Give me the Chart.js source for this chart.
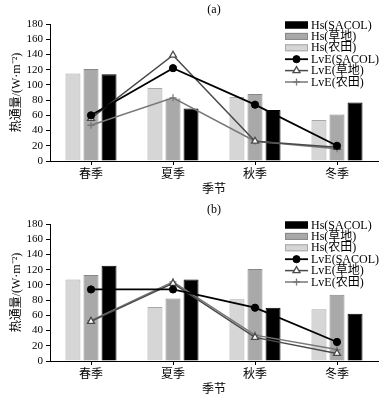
<!DOCTYPE html>
<html>
<head>
<meta charset="utf-8">
<script src="https://cdn.jsdelivr.net/npm/chart.js@4/dist/chart.umd.min.js"></script>
<style>
  html, body { margin: 0; padding: 0; background: #fff; }
  canvas { display: block; }
</style>
</head>
<body>
<canvas id="ca" width="384" height="200"></canvas>
<canvas id="cb" width="384" height="200"></canvas>
<script>
// ---- data ----
const categories = ['春季', '夏季', '秋季', '冬季'];
const yTicks = [0, 20, 40, 60, 80, 100, 120, 140, 160, 180];
const seriesLabels = ['Hs(农田)', 'Hs(草地)', 'Hs(SACOL)', 'LvE(SACOL)', 'LvE(草地)', 'LvE(农田)'];

// panel (a)
const hsFarmA  = [115, 96, 84, 54];
const hsGrassA = [121, 82, 88, 61];
const hsSacolA = [114, 69, 67, 77];
const lveSacolA = [60, 122, 74, 20];
const lveGrassA = [56, 139, 26, 18];
const lveFarmA  = [47, 83, 26, 16];

// panel (b)
const hsFarmB  = [107, 71, 81, 68];
const hsGrassB = [113, 82, 121, 87];
const hsSacolB = [125, 107, 70, 62];
const lveSacolB = [94, 94, 70, 25];
const lveGrassB = [52, 102, 31, 10];
const lveFarmB  = [53, 104, 34, 15];

const FONT = "'Liberation Serif', 'Noto Sans CJK SC', serif";
const legendOrder = [2, 1, 0, 3, 4, 5];

const legendPlugin = {
  id: 'customLegend',
  afterDraw(chart) {
    const ctx = chart.ctx;
    const x0 = 285, w = 23, y0 = 25, dy = 11.4;
    ctx.save();
    ctx.font = '12px ' + FONT;
    ctx.textBaseline = 'middle';
    ctx.textAlign = 'left';
    legendOrder.forEach((di, row) => {
      const ds = chart.data.datasets[di];
      const y = y0 + row * dy;
      if (ds.type === 'bar') {
        ctx.fillStyle = ds.backgroundColor;
        ctx.fillRect(x0, y - 3.5, w, 7);
        ctx.strokeStyle = ds.borderColor;
        ctx.lineWidth = 1;
        ctx.strokeRect(x0 + 0.5, y - 3, w - 1, 6);
      } else {
        ctx.strokeStyle = ds.borderColor;
        ctx.lineWidth = ds.borderWidth;
        ctx.beginPath();
        ctx.moveTo(x0, y);
        ctx.lineTo(x0 + w, y);
        ctx.stroke();
        const cx = x0 + w / 2;
        const r = ds.pointRadius;
        ctx.lineWidth = ds.pointBorderWidth;
        ctx.strokeStyle = ds.pointBorderColor;
        ctx.fillStyle = ds.pointBackgroundColor;
        if (ds.pointStyle === 'circle') {
          ctx.beginPath(); ctx.arc(cx, y, r, 0, Math.PI * 2); ctx.fill(); ctx.stroke();
        } else if (ds.pointStyle === 'triangle') {
          ctx.beginPath();
          ctx.moveTo(cx, y - r);
          ctx.lineTo(cx + r * 0.87, y + r * 0.5);
          ctx.lineTo(cx - r * 0.87, y + r * 0.5);
          ctx.closePath(); ctx.fill(); ctx.stroke();
        } else {
          ctx.beginPath();
          ctx.moveTo(cx - r, y); ctx.lineTo(cx + r, y);
          ctx.moveTo(cx, y - r); ctx.lineTo(cx, y + r);
          ctx.stroke();
        }
      }
      ctx.fillStyle = '#000';
      ctx.fillText(ds.label, x0 + w + 3, y + 0.5);
    });
    ctx.restore();
  }
};

function buildChart(id, title, hsFarm, hsGrass, hsSacol, lveSacol, lveGrass, lveFarm) {
  const barCommon = { type: 'bar', order: 2, borderWidth: 1, categoryPercentage: 0.66, barPercentage: 0.83 };
  return new Chart(document.getElementById(id), {
    data: {
      labels: categories,
      datasets: [
        Object.assign({ label: seriesLabels[0], data: hsFarm, backgroundColor: '#d6d6d6', borderColor: '#a8a8a8' }, barCommon),
        Object.assign({ label: seriesLabels[1], data: hsGrass, backgroundColor: '#a9a9a9', borderColor: '#888888' }, barCommon),
        Object.assign({ label: seriesLabels[2], data: hsSacol, backgroundColor: '#000000', borderColor: '#000000' }, barCommon),
        { type: 'line', order: 0, label: seriesLabels[3], data: lveSacol, borderColor: '#000', borderWidth: 1.8,
          pointStyle: 'circle', pointRadius: 3.6, pointBackgroundColor: '#000', pointBorderColor: '#000', pointBorderWidth: 1 },
        { type: 'line', order: 1, label: seriesLabels[4], data: lveGrass, borderColor: '#4a4a4a', borderWidth: 1.5,
          pointStyle: 'triangle', pointRadius: 4, pointBackgroundColor: '#fff', pointBorderColor: '#4a4a4a', pointBorderWidth: 1.3 },
        { type: 'line', order: 1, label: seriesLabels[5], data: lveFarm, borderColor: '#777', borderWidth: 1.5,
          pointStyle: 'cross', pointRadius: 3.5, pointBackgroundColor: '#777', pointBorderColor: '#777', pointBorderWidth: 1.3 }
      ]
    },
    options: {
      responsive: false,
      animation: false,
      devicePixelRatio: 1,
      layout: { padding: { left: 0, right: 6, top: 0, bottom: 0 } },
      plugins: {
        legend: { display: false },
        tooltip: { enabled: false },
        title: {
          display: true, text: title, color: '#000', fullSize: false,
          font: { family: FONT, size: 12, weight: 'normal' },
          padding: { top: 3, bottom: 6.6 }
        }
      },
      scales: {
        x: {
          offset: true,
          grid: { offset: false, drawOnChartArea: false, drawTicks: true, tickLength: 4, color: '#000' },
          border: { display: true, color: '#000', width: 1 },
          ticks: { color: '#000', padding: 3, font: { family: FONT, size: 12 } },
          title: { display: true, text: '季节', color: '#000', font: { family: FONT, size: 12 }, padding: { top: 0, bottom: 3 } },
          afterFit(s) { s.height = 39; }
        },
        y: {
          min: 0, max: 180,
          afterBuildTicks(s) { s.ticks = yTicks.map(v => ({ value: v })); },
          grid: { drawOnChartArea: false, drawTicks: true, tickLength: 4, color: '#000' },
          border: { display: true, color: '#000', width: 1 },
          ticks: { color: '#000', padding: 3, autoSkip: false, font: { family: FONT, size: 11 } },
          title: { display: true, text: '热通量/(W·m⁻²)', color: '#000', font: { family: FONT, size: 12 }, padding: { top: 10, bottom: 0 } },
          afterFit(s) { s.width = 50; }
        }
      }
    },
    plugins: [legendPlugin]
  });
}

buildChart('ca', '(a)', hsFarmA, hsGrassA, hsSacolA, lveSacolA, lveGrassA, lveFarmA);
buildChart('cb', '(b)', hsFarmB, hsGrassB, hsSacolB, lveSacolB, lveGrassB, lveFarmB);
</script>
</body>
</html>
